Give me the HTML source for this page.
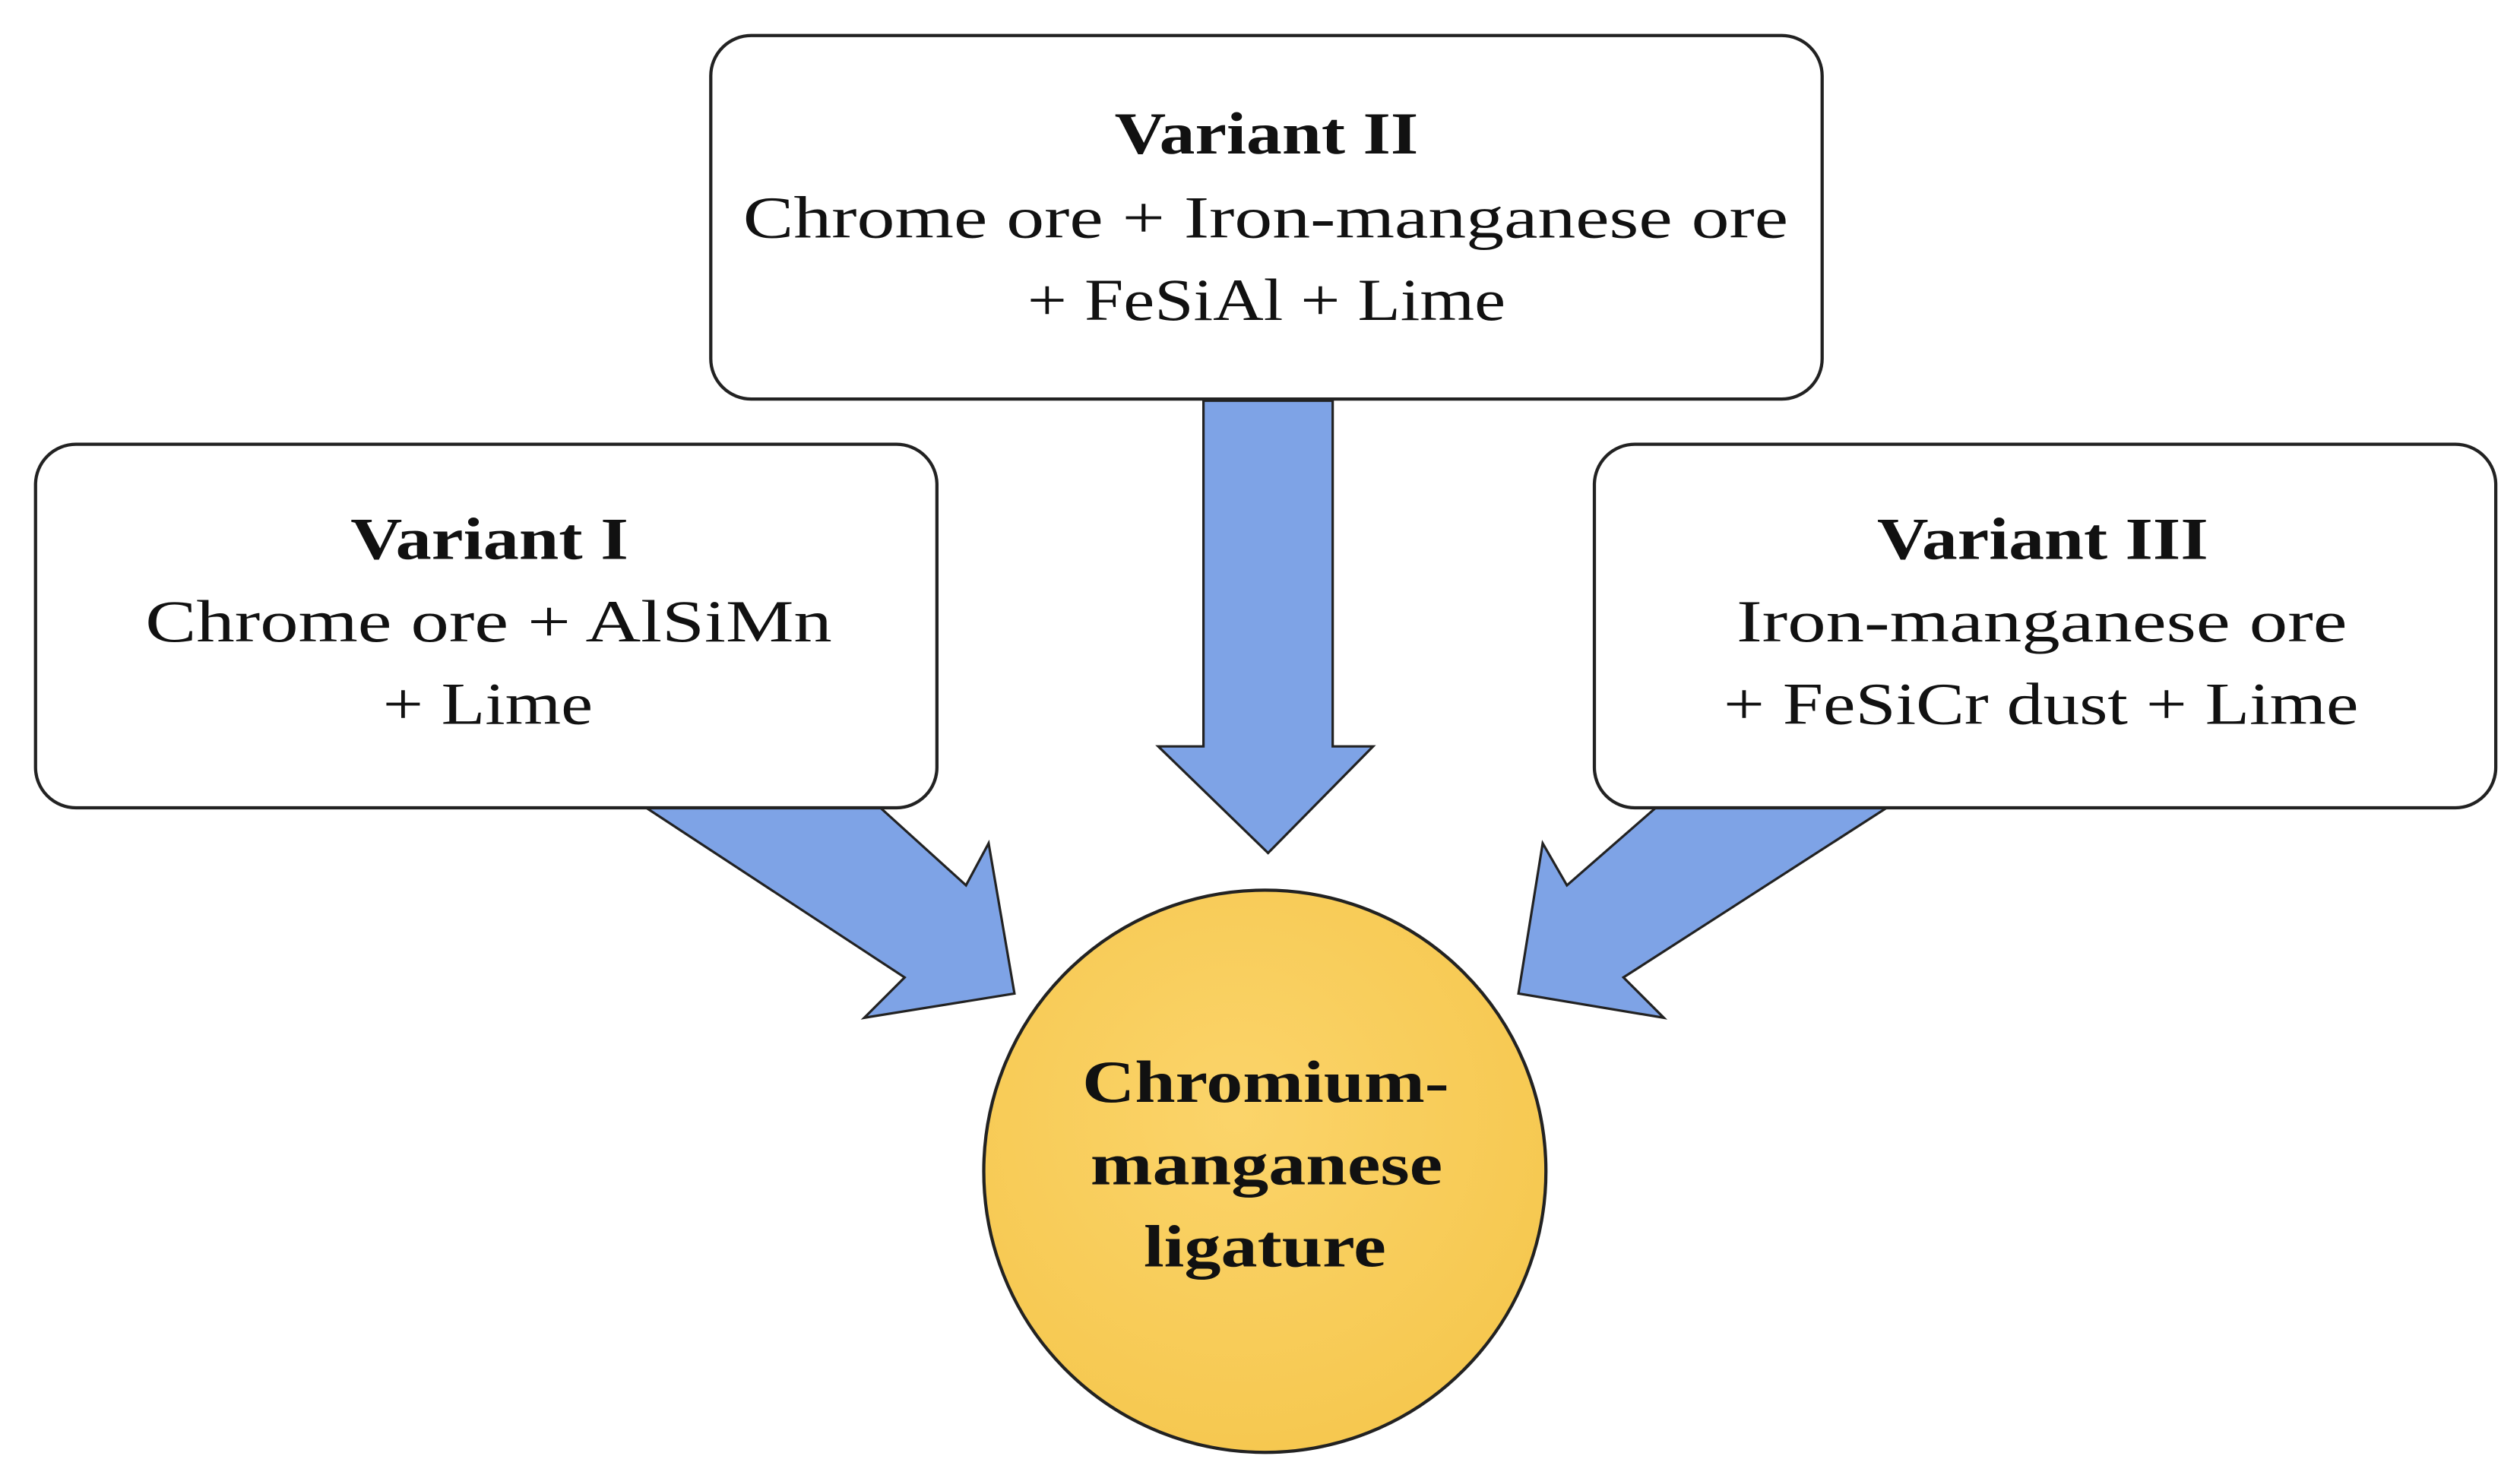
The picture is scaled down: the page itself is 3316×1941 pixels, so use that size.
<!DOCTYPE html>
<html><head><meta charset="utf-8"><style>html,body{margin:0;padding:0;background:#fff}svg{display:block}</style></head>
<body>
<svg width="3316" height="1941" viewBox="0 0 1560 913" preserveAspectRatio="none" xmlns="http://www.w3.org/2000/svg">
<defs>
<radialGradient id="g" cx="0.45" cy="0.4" r="0.6"><stop offset="0" stop-color="#fbd46a"/><stop offset="1" stop-color="#f6c850"/></radialGradient>
</defs>
<g fill="#7ea3e6" stroke="#222" stroke-width="1.5">
<polygon points="745,248 825,248 825,462 850,462 785,528 717,462 745,462"/>
<polygon points="400,500 545,500 598,548 612,522 628,615 535,630 560,605"/>
<polygon points="1168,500 1025,500 970,548 955,522 940,615 1030,630 1005,605"/>
</g>
<g fill="#fff" stroke="#222" stroke-width="2">
<rect x="440" y="22" width="688" height="225" rx="25"/>
<rect x="22" y="275" width="558" height="225" rx="25"/>
<rect x="987" y="275" width="558" height="225" rx="25"/>
</g>
<circle cx="783" cy="725" r="174" fill="url(#g)" stroke="#222" stroke-width="2"/>
<g font-family="'Liberation Serif', serif" font-size="37" fill="#111" lengthAdjust="spacingAndGlyphs">
<text x="690" y="95" font-weight="bold" textLength="188" lengthAdjust="spacingAndGlyphs">Variant II</text>
<text x="460" y="147" textLength="647" lengthAdjust="spacingAndGlyphs">Chrome ore + Iron-manganese ore</text>
<text x="636" y="198" textLength="296" lengthAdjust="spacingAndGlyphs">+ FeSiAl + Lime</text>
<text x="217" y="346" font-weight="bold" textLength="172" lengthAdjust="spacingAndGlyphs">Variant I</text>
<text x="90" y="397" textLength="425" lengthAdjust="spacingAndGlyphs">Chrome ore  + AlSiMn</text>
<text x="237" y="448" textLength="130" lengthAdjust="spacingAndGlyphs">+ Lime</text>
<text x="1162" y="346" font-weight="bold" textLength="205" lengthAdjust="spacingAndGlyphs">Variant III</text>
<text x="1075" y="397" textLength="378" lengthAdjust="spacingAndGlyphs">Iron-manganese ore</text>
<text x="1067" y="448" textLength="393" lengthAdjust="spacingAndGlyphs">+ FeSiCr dust + Lime</text>
<text x="670" y="682" font-weight="bold" textLength="227" lengthAdjust="spacingAndGlyphs">Chromium-</text>
<text x="675" y="733" font-weight="bold" textLength="218" lengthAdjust="spacingAndGlyphs">manganese</text>
<text x="708" y="784" font-weight="bold" textLength="150" lengthAdjust="spacingAndGlyphs">ligature</text>
</g>
</svg>
</body></html>
